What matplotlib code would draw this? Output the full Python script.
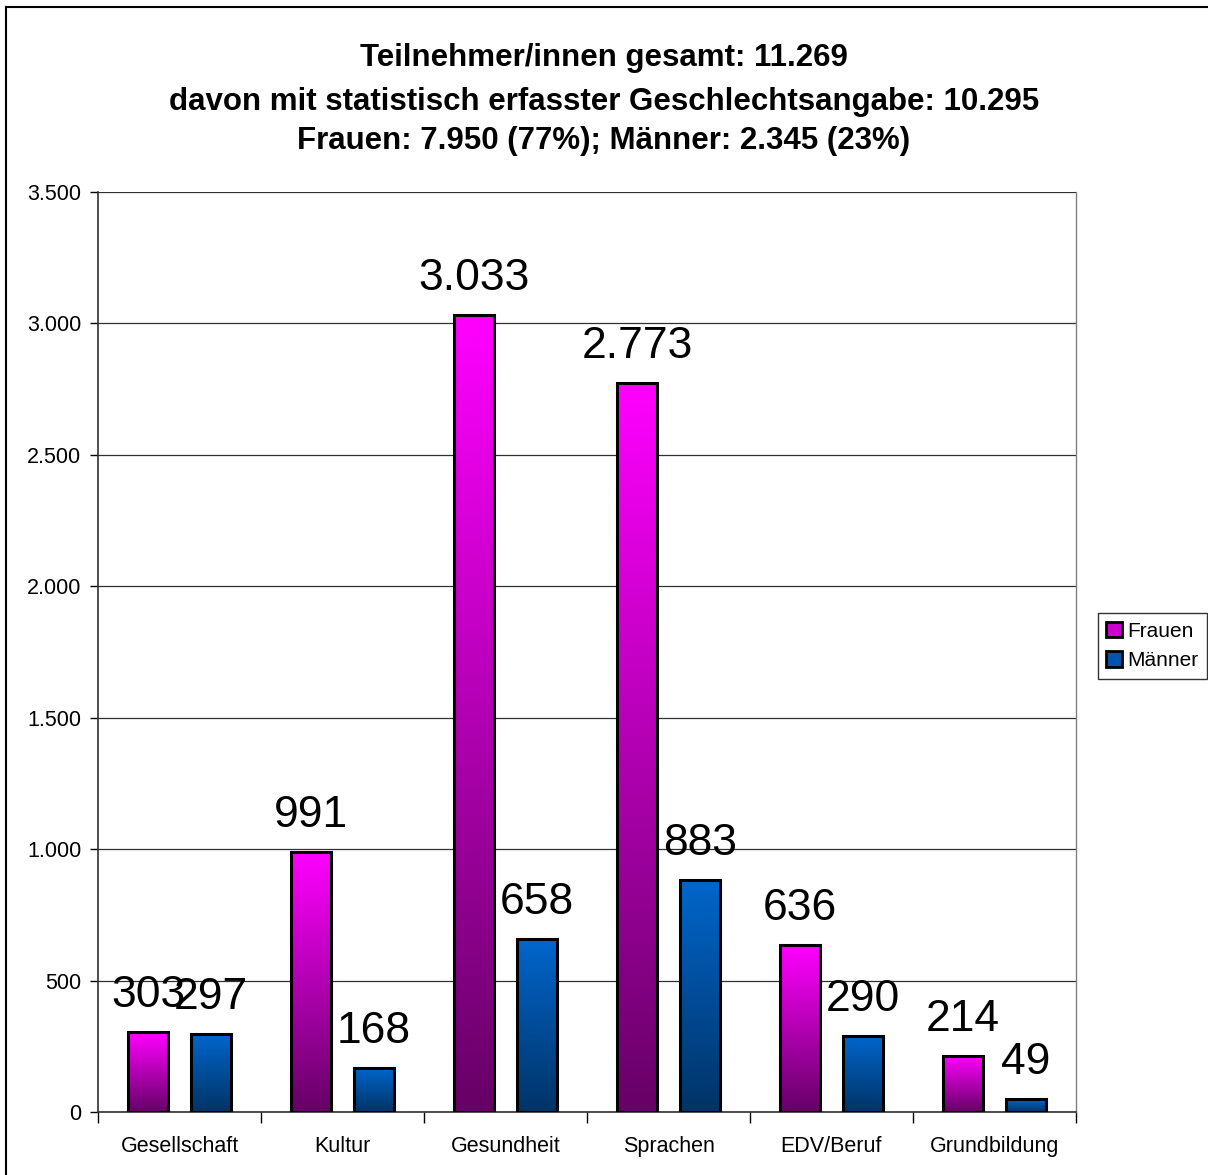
import matplotlib
matplotlib.use("Agg")
import matplotlib.pyplot as plt
import numpy as np
from matplotlib.colors import LinearSegmentedColormap
from matplotlib.lines import Line2D
from matplotlib.patches import Patch
from matplotlib.ticker import FuncFormatter, FixedLocator

plt.rcParams['font.family'] = ['Liberation Sans', 'DejaVu Sans']

categories = ["Gesellschaft", "Kultur", "Gesundheit", "Sprachen", "EDV/Beruf", "Grundbildung"]
frauen = [303, 991, 3033, 2773, 636, 214]
maenner = [297, 168, 658, 883, 290, 49]
series_names = ["Frauen", "Männer"]
title_lines = ["Teilnehmer/innen gesamt: 11.269",
               "davon mit statistisch erfasster Geschlechtsangabe: 10.295",
               "Frauen: 7.950 (77%); Männer: 2.345 (23%)"]

W, H = 1208, 1175
fig = plt.figure(figsize=(W / 100, H / 100), dpi=100)
ax = fig.add_axes([98 / W, 1 - 1112 / H, (1076 - 98) / W, (1112 - 192) / H])

x = np.arange(len(categories))
bw = 0.25
off = 0.193

cmap_f = LinearSegmentedColormap.from_list("f", ["#660066", "#FF00FF"])
cmap_m = LinearSegmentedColormap.from_list("m", ["#003366", "#0066CC"])
grad = np.linspace(0, 1, 256).reshape(-1, 1)

def fmt(v):
    return f"{int(v):,}".replace(",", ".")

for vals, dx, cmap in [(frauen, -off, cmap_f), (maenner, off, cmap_m)]:
    bars = ax.bar(x + dx, vals, width=bw, facecolor="none", edgecolor="black", linewidth=2.2, zorder=4)
    for b, v in zip(bars, vals):
        x0, w, h = b.get_x(), b.get_width(), b.get_height()
        ax.imshow(grad, cmap=cmap, origin="lower", aspect="auto",
                  extent=(x0, x0 + w, 0, h), zorder=3, interpolation="bilinear")
        ax.annotate(fmt(v), (x0 + w / 2, h), xytext=(0, 18), textcoords="offset points",
                    ha="center", va="baseline", fontsize=32, zorder=5)

ax.set_xlim(-0.5, len(categories) - 0.5)
ax.set_ylim(0, 3500)
ax.set_yticks(np.arange(0, 3501, 500))
ax.yaxis.set_major_formatter(FuncFormatter(lambda v, p: fmt(v)))
ax.set_xticks(x)
ax.set_xticklabels(categories)
ax.xaxis.set_minor_locator(FixedLocator(np.arange(-0.5, len(categories), 1.0)))
ax.tick_params(axis="x", which="major", length=0, pad=17, labelsize=15.5)
ax.tick_params(axis="x", which="minor", length=8, width=1, direction="out")
ax.tick_params(axis="y", length=6, width=1, direction="out", labelsize=15.5, pad=6)
ax.grid(axis="y", color="#303030", linewidth=0.9, zorder=1)
ax.set_axisbelow(True)
for s in ["left", "bottom"]:
    ax.spines[s].set_color("#303030")
    ax.spines[s].set_linewidth(1.2)
ax.spines["top"].set_visible(False)
ax.spines["right"].set_color("#808080")
ax.spines["right"].set_linewidth(1)

handles = [Patch(facecolor="#CC00CC", edgecolor="black", linewidth=2),
           Patch(facecolor="#0055AA", edgecolor="black", linewidth=2)]
leg = fig.legend(handles, series_names, loc="center left",
                 bbox_to_anchor=(1098 / W, 1 - 646 / H), fontsize=15,
                 frameon=True, fancybox=False, edgecolor="black",
                 handlelength=0.75, handleheight=0.75, handletextpad=0.25,
                 borderpad=0.4, labelspacing=0.5, borderaxespad=0)
leg.get_frame().set_linewidth(1)

fig.text(0.5, 1 - 58 / H, title_lines[0], ha="center", va="center", fontsize=22.5, fontweight="bold")
fig.text(0.5, 1 - 102 / H, title_lines[1], ha="center", va="center", fontsize=22.5, fontweight="bold")
fig.text(0.5, 1 - 141 / H, title_lines[2], ha="center", va="center", fontsize=22.5, fontweight="bold")

fig.add_artist(Line2D([6 / W, 6 / W], [0, 1 - 7 / H], transform=fig.transFigure, color="black", linewidth=1.5))
fig.add_artist(Line2D([6 / W, 1], [1 - 7 / H, 1 - 7 / H], transform=fig.transFigure, color="black", linewidth=1.5))

fig.savefig("out.png", dpi=100, facecolor="white")
